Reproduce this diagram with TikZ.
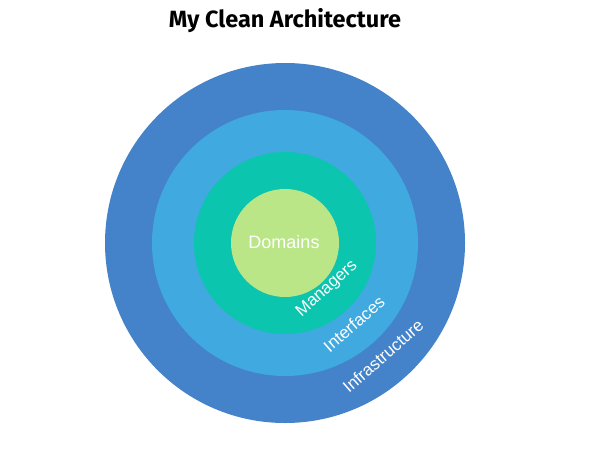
\documentclass[tikz,border=0pt]{standalone}
\usepackage{fontspec}
\setmainfont{Liberation Sans}
\newfontfamily\titlefont{Fira Sans}
\definecolor{cInfra}{HTML}{4483C9}
\definecolor{cIface}{HTML}{40A9E0}
\definecolor{cMgr}{HTML}{0BC5AE}
\definecolor{cDom}{HTML}{BBE688}
\tikzset{
  ring/.style={circle, inner sep=0pt, draw=none},
  lbl/.style={text=white, font=\fontsize{17}{17}\selectfont, inner sep=0pt},
}
\begin{document}
\begin{tikzpicture}[x=1pt,y=-1pt]
\useasboundingbox (0,0) rectangle (607,463);
\node[ring, fill=cInfra, minimum size=360pt] (infra) at (285,243) {};
\node[ring, fill=cIface, minimum size=266pt] (iface) at (285,243) {};
\node[ring, fill=cMgr, minimum size=182pt] (mgr) at (285,243) {};
\node[ring, fill=cDom, minimum size=108pt] (dom) at (285,243) {};
\node[lbl, font=\fontsize{18}{18}\selectfont] (domlbl) at (284,242) {Domains};
\node[lbl, rotate=42] (mgrlbl) at (327,289) {Managers};
\node[lbl, rotate=41] (ifacelbl) at (354,324) {Interfaces};
\node[lbl, rotate=41] (infralbl) at (383,356) {Infrastructure};
\node[font=\titlefont\bfseries\fontsize{23.5}{23.5}\selectfont, inner sep=0pt] (title) at (285,21) {My Clean Architecture};
\end{tikzpicture}
\end{document}
